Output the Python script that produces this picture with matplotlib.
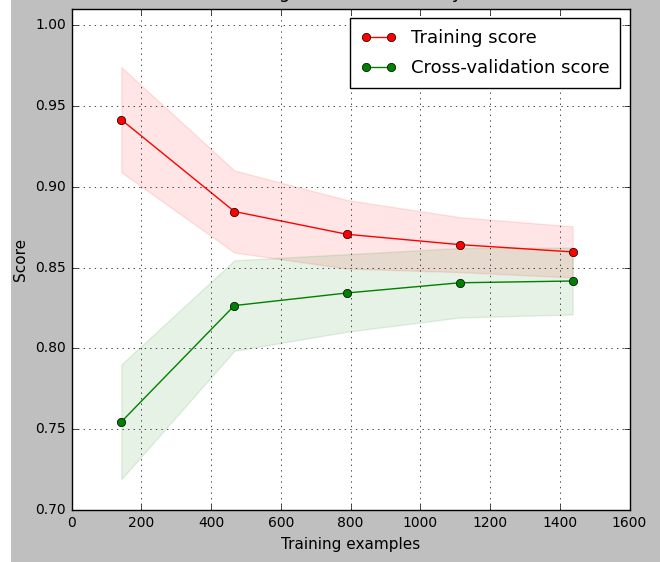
import numpy as np
import matplotlib
matplotlib.use("Agg")
import matplotlib.pyplot as plt
from matplotlib.patches import Rectangle

plt.style.use("classic")
plt.rcParams["xtick.labelsize"] = 10
plt.rcParams["ytick.labelsize"] = 10
plt.rcParams["axes.labelsize"] = 11
plt.rcParams["legend.fontsize"] = 13

train_sizes = [143, 467, 790, 1113, 1437]
train_mean = [0.9415, 0.8847, 0.8706, 0.8642, 0.8597]
train_std = [0.0325, 0.0254, 0.0212, 0.0170, 0.0158]
test_mean = [0.7546, 0.8265, 0.8343, 0.8406, 0.8417]
test_std = [0.0355, 0.0280, 0.0240, 0.0215, 0.0207]

train_sizes = np.array(train_sizes)
train_mean = np.array(train_mean)
train_std = np.array(train_std)
test_mean = np.array(test_mean)
test_std = np.array(test_std)

fig = plt.figure(figsize=(6.6, 5.62), dpi=100, facecolor="0.75")
ax = fig.add_axes([71.5 / 660, 0.0925, 558 / 660, 0.8915])

ax.set_title("Learning Curves (Naive Bayes)", fontsize=13, pad=8)
ax.set_ylim(0.7, 1.01)
ax.set_xlim(0, 1600)
ax.set_xlabel("Training examples")
ax.set_ylabel("Score")
ax.grid(True)

ax.fill_between(train_sizes, train_mean - train_std, train_mean + train_std,
                alpha=0.1, color="r")
ax.fill_between(train_sizes, test_mean - test_std, test_mean + test_std,
                alpha=0.1, color="g")
ax.plot(train_sizes, train_mean, "o-", color="r", label="Training score")
ax.plot(train_sizes, test_mean, "o-", color="g", label="Cross-validation score")
ax.legend(loc="best", labelspacing=0.7, borderpad=0.6)

# white strip on the left edge of the screenshot
fig.patches.append(Rectangle((0, 0), 11 / 660, 1, transform=fig.transFigure,
                             facecolor="white", edgecolor="none", zorder=-1))

fig.savefig("out.png", dpi=100, facecolor=fig.get_facecolor())
